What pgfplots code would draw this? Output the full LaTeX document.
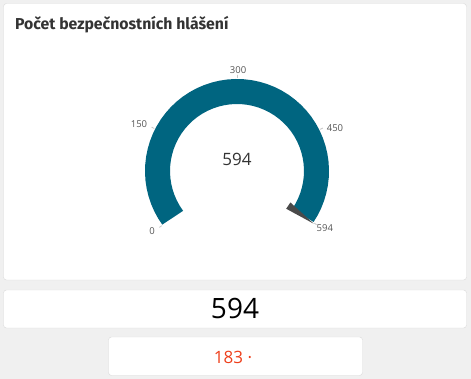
\documentclass[border=0pt]{standalone}
\usepackage{fontspec}
\setmainfont{Open Sans}
\newfontfamily\titlefont{Fira Sans}
\usepackage{pgfplots}
\pgfplotsset{compat=1.18}
\usepgfplotslibrary{polar}
\definecolor{bggray}{HTML}{F0F0F0}
\definecolor{cardborder}{HTML}{DADADA}
\definecolor{gaugeblue}{HTML}{006580}
\definecolor{needle}{HTML}{4A4A4A}
\definecolor{titlec}{HTML}{333333}
\definecolor{tickc}{HTML}{555555}
\definecolor{tickl}{HTML}{C8C8C8}
\definecolor{redc}{HTML}{EE3F1B}
\begin{document}
\begin{tikzpicture}[x=1pt,y=1pt]
\path[use as bounding box, fill=bggray] (0,0) rectangle (471,379);
\draw[cardborder, fill=white, rounded corners=3pt] (3.5,375.5) rectangle (466.5,99);
\draw[cardborder, fill=white, rounded corners=3pt] (3.5,89) rectangle (466.5,51);
\draw[cardborder, fill=white, rounded corners=3pt] (108.5,42) rectangle (362.5,3.5);
\node[anchor=base west, text=titlec, font=\titlefont\bfseries\fontsize{15.8}{18}\selectfont, inner sep=0pt] at (15,349) {Počet bezpečnostních hlášení};
\node[anchor=center, text=black, font=\fontsize{28}{31}\selectfont, inner sep=0pt] at (235,70) {594};
\node[anchor=center, text=redc, font=\fontsize{17}{19}\selectfont, inner sep=0pt] at (233,22) {183 ·};
\begin{polaraxis}[
  hide axis, scale only axis, width=220pt, height=220pt,
  ymin=0, ymax=110, clip=false,
  at={(237,208)}, anchor=center]
\addplot[line width=25pt, color=gaugeblue, mark=none] coordinates {
(216,79.5) (211,79.5) (206,79.5) (201,79.5) (196,79.5) (191,79.5) (186,79.5) (181,79.5) (176,79.5) (171,79.5)
(166,79.5) (161,79.5) (156,79.5) (151,79.5) (146,79.5) (141,79.5) (136,79.5) (131,79.5) (126,79.5) (121,79.5)
(116,79.5) (111,79.5) (106,79.5) (101,79.5) (96,79.5) (91,79.5) (86,79.5) (81,79.5) (76,79.5) (71,79.5)
(66,79.5) (61,79.5) (56,79.5) (51,79.5) (46,79.5) (41,79.5) (36,79.5) (31,79.5) (26,79.5) (21,79.5)
(16,79.5) (11,79.5) (6,79.5) (1,79.5) (-4,79.5) (-9,79.5) (-14,79.5) (-19,79.5) (-24,79.5) (-29,79.5) (-34,79.5)};
\addplot[fill=needle, draw=none, mark=none] coordinates {(-30.5,62) (-37.5,62) (-34.5,93) (-30.5,62)};
\addplot[tickl, line width=0.8pt, mark=none] coordinates {(216,93) (216,96)};
\addplot[tickl, line width=0.8pt, mark=none] coordinates {(152.8,93) (152.8,96)};
\addplot[tickl, line width=0.8pt, mark=none] coordinates {(89.7,93) (89.7,96)};
\addplot[tickl, line width=0.8pt, mark=none] coordinates {(26.6,93) (26.6,96)};
\addplot[tickl, line width=0.8pt, mark=none] coordinates {(-34,93) (-34,96)};
\node[text=tickc, font=\fontsize{9.5}{11}\selectfont, inner sep=0pt] at (axis cs:215.2,104) {0};
\node[text=tickc, font=\fontsize{9.5}{11}\selectfont, inner sep=0pt] at (axis cs:154.4,108.7) {150};
\node[text=tickc, font=\fontsize{9.5}{11}\selectfont, inner sep=0pt] at (axis cs:89.4,101) {300};
\node[text=tickc, font=\fontsize{9.5}{11}\selectfont, inner sep=0pt] at (axis cs:23.7,107) {450};
\node[text=tickc, font=\fontsize{9.5}{11}\selectfont, inner sep=0pt] at (axis cs:-33.2,105) {594};
\node[text=titlec, font=\fontsize{17}{20}\selectfont, inner sep=0pt] at (axis cs:90,12) {594};
\end{polaraxis}
\end{tikzpicture}
\end{document}
